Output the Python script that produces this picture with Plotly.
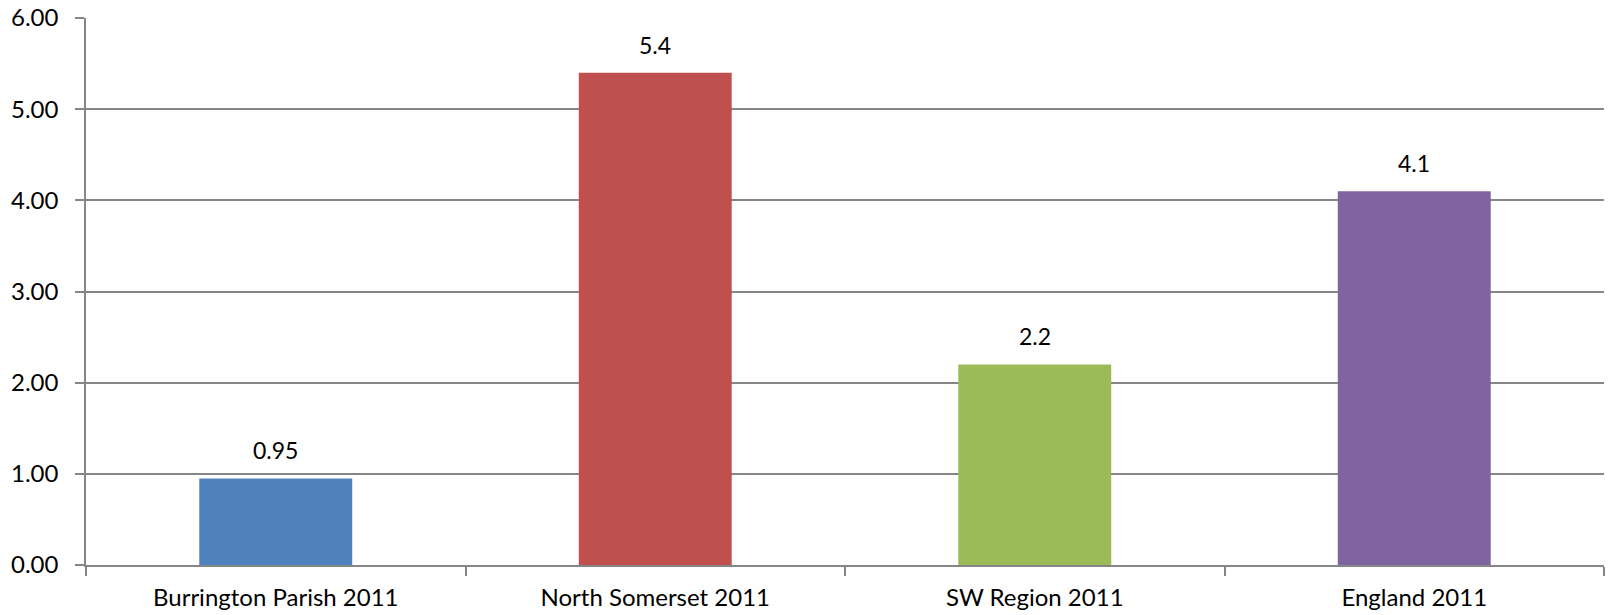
import plotly.graph_objects as go

categories = ["Burrington Parish 2011", "North Somerset 2011", "SW Region 2011", "England 2011"]
values = [0.95, 5.4, 2.2, 4.1]
value_labels = ["0.95", "5.4", "2.2", "4.1"]
bar_colors = ["#4F81BD", "#C0504D", "#9BBB59", "#8064A2"]
y_ticks = [0, 1, 2, 3, 4, 5, 6]

FONT = "Lato"
fig = go.Figure(go.Bar(
    x=categories, y=values, marker=dict(color=bar_colors, line=dict(width=0)),
    hoverinfo="skip",
))

for c, v, t in zip(categories, values, value_labels):
    fig.add_annotation(x=c, y=v, text=t, showarrow=False, yanchor="bottom",
                       yshift=12, font=dict(family=FONT, size=23, color="black"))

fig.update_layout(
    width=1612, height=615,
    margin=dict(l=86, r=8, t=18, b=50, autoexpand=False),
    paper_bgcolor="white", plot_bgcolor="white",
    showlegend=False, bargap=0.597,
    font=dict(family=FONT, size=23, color="black"),
)
fig.update_xaxes(
    automargin=False,
    showline=True, linecolor="#868686", linewidth=1.5,
    ticks="outside", tickson="boundaries", ticklen=9, tickcolor="#868686", tickwidth=1.5,
    ticklabelstandoff=10, ticklabeloverflow="allow",
    showgrid=False, tickfont=dict(family=FONT, size=24, color="black"),
)
fig.update_yaxes(
    automargin=False,
    range=[0, 6], tickvals=y_ticks, tickformat=".2f",
    showline=True, linecolor="#868686", linewidth=1.5,
    ticks="outside", ticklen=9, tickcolor="#868686", tickwidth=1.5,
    ticklabelstandoff=12, ticklabeloverflow="allow",
    showgrid=True, gridcolor="#868686", gridwidth=1.5, zeroline=False,
    tickfont=dict(family=FONT, size=24, color="black"),
)

# remove the browser's default 8px body margin so the figure fills the window
fig.write_html("out.html", config={"displayModeBar": False},
               post_script="document.body.style.margin='0';")
